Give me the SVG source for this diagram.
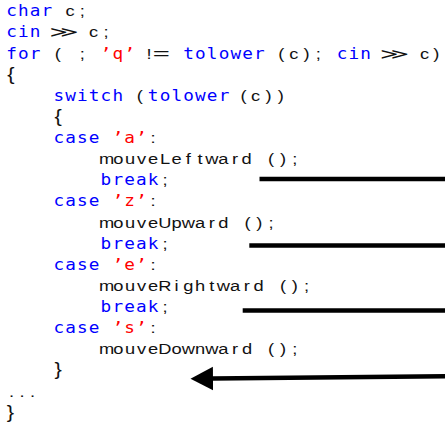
<svg xmlns="http://www.w3.org/2000/svg" width="445" height="424" viewBox="0 0 445 424">
  <style>
    text { text-anchor: middle; }
    .kw  { font-family: "DejaVu Sans Mono", "Liberation Mono", monospace; font-size: 15px; fill: #0000ff; }
    .str { font-family: "DejaVu Sans Mono", "Liberation Mono", monospace; font-size: 15px; fill: #ff0000; }
    .id  { font-family: "Liberation Sans", Arial, sans-serif; font-size: 15.5px; fill: #111111; }
    .brc { font-family: "Liberation Sans", Arial, sans-serif; font-size: 18.5px; fill: #111111; }
    .op  { font-family: "DejaVu Sans", sans-serif; font-size: 15px; fill: #111111; }
    .jump { stroke: #000000; stroke-width: 4.5; fill: none; stroke-linecap: butt; }
  </style>
  <defs>
    <marker id="head" markerUnits="userSpaceOnUse" markerWidth="24" markerHeight="26"
            viewBox="0 -13 24 26" refX="1" refY="0" orient="auto">
      <path d="M0,-11.8 L22.5,0 L0,11.8 Z" fill="#000000"/>
    </marker>
  </defs>

  <rect width="445" height="424" fill="#ffffff"/>

  <!-- code listing: one column = 10 local units, stretched horizontally -->
  <g id="listing" transform="scale(1.18 1)">
    <g id="row-char">
      <text class="kw" x="9.8 19.8 29.8 39.8" y="16.3">char</text>
      <text class="id" x="59.3 69.8" y="16.3">c;</text>
    </g>
    <g id="row-cin">
      <text class="kw" x="9.8 19.8 29.8" y="37.4">cin</text>
      <text class="op" x="54.3" y="37.4" textLength="25" lengthAdjust="spacingAndGlyphs">≫</text>
      <text class="id" x="79.3 89.8" y="37.4">c;</text>
    </g>
    <g id="row-for">
      <text class="kw" x="9.8 19.8 29.8" y="58.6">for</text>
      <text class="id" x="49" y="58.6">(</text>
      <text class="id" x="69.8" y="58.6">;</text>
      <text class="str" x="89.8 99.8 109.8" y="58.6">’q’</text>
      <text class="id" x="126.3" y="58.6">!</text>
      <text class="id" x="136.6" y="58.6" textLength="14.5" lengthAdjust="spacingAndGlyphs">=</text>
      <text class="kw" x="159.8 169.8 179.8 189.8 199.8 209.8 219.8" y="58.6">tolower</text>
      <text class="id" x="238.5 249 259.8 269.8" y="58.6">(c);</text>
      <text class="kw" x="289.8 299.8 309.8" y="58.6">cin</text>
      <text class="op" x="334.3" y="58.6" textLength="25" lengthAdjust="spacingAndGlyphs">≫</text>
      <text class="id" x="359.8 369.8" y="58.6">c)</text>
    </g>
    <g id="row-open-loop">
      <text class="brc" x="9.3" y="79.7">{</text>
    </g>
    <g id="row-switch">
      <text class="kw" x="49.8 59.8 69.8 79.8 89.8 99.8" y="100.8">switch</text>
      <text class="id" x="118.4" y="100.8">(</text>
      <text class="kw" x="129.8 139.8 149.8 159.8 169.8 179.8 189.8" y="100.8">tolower</text>
      <text class="id" x="206.5 216.5 227.5 238" y="100.8">(c))</text>
    </g>
    <g id="row-open-switch">
      <text class="brc" x="49.3" y="121.95">{</text>
    </g>

    <g id="case-a">
      <text class="kw" x="49.8 59.8 69.8 79.8" y="143.1">case</text>
      <text class="str" x="99.8 109.8 119.8" y="143.1">’a’</text>
      <text class="id" x="129.8" y="143.1">:</text>
      <text class="id" x="90.3 100.3 110.3 120 129.8 139.8 149.6 159.6 169.5 179.5 189.3 199.2 209" y="164.2">mouveLeftward</text>
      <text class="id" x="229.8 239.8 249.8" y="164.2">();</text>
      <text class="kw" x="89.8 99.8 109.8 119.8 129.8" y="185.3">break</text>
      <text class="id" x="139.8" y="185.3">;</text>
    </g>

    <g id="case-z">
      <text class="kw" x="49.8 59.8 69.8 79.8" y="206.5">case</text>
      <text class="str" x="99.8 109.8 119.8" y="206.5">’z’</text>
      <text class="id" x="129.8" y="206.5">:</text>
      <text class="id" x="90.3 100.3 110.3 120 129.8 139.8 149.6 159.6 169.5 179.5 189.3" y="227.6">mouveUpward</text>
      <text class="id" x="209.8 219.8 229.8" y="227.6">();</text>
      <text class="kw" x="89.8 99.8 109.8 119.8 129.8" y="248.7">break</text>
      <text class="id" x="139.8" y="248.7">;</text>
    </g>

    <g id="case-e">
      <text class="kw" x="49.8 59.8 69.8 79.8" y="269.9">case</text>
      <text class="str" x="99.8 109.8 119.8" y="269.9">’e’</text>
      <text class="id" x="129.8" y="269.9">:</text>
      <text class="id" x="90.3 100.3 110.3 120 129.8 139.8 149.6 159.6 169.5 179.5 189.3 199.2 209.2 219.2" y="291">mouveRightward</text>
      <text class="id" x="239.8 249.8 259.8" y="291">();</text>
      <text class="kw" x="89.8 99.8 109.8 119.8 129.8" y="312.1">break</text>
      <text class="id" x="139.8" y="312.1">;</text>
    </g>

    <g id="case-s">
      <text class="kw" x="49.8 59.8 69.8 79.8" y="333.3">case</text>
      <text class="str" x="99.8 109.8 119.8" y="333.3">’s’</text>
      <text class="id" x="129.8" y="333.3">:</text>
      <text class="id" x="90.3 100.3 110.3 120 129.8 139.8 149.6 159.6 169.5 179.5 189.3 199.2 209.5" y="354.4">mouveDownward</text>
      <text class="id" x="229.8 239.8 249.8" y="354.4">();</text>
    </g>

    <g id="row-close-switch">
      <text class="brc" x="49.3" y="375.5">}</text>
    </g>
    <g id="row-ellipsis">
      <text class="id" x="9.9 18.6 27.6" y="396.6">...</text>
    </g>
    <g id="row-close-loop">
      <text class="brc" x="8.8" y="417.8">}</text>
    </g>
  </g>

  <!-- jumps out of each break, ending after the switch -->
  <g id="connectors">
    <line class="jump" x1="259.5" y1="179" x2="446" y2="179"/>
    <line class="jump" x1="249.3" y1="245.5" x2="446" y2="245.5"/>
    <line class="jump" x1="242.7" y1="310.6" x2="446" y2="310.6"/>
    <line class="jump" x1="446" y1="376.2" x2="212" y2="378.6" marker-end="url(#head)"/>
  </g>
</svg>
